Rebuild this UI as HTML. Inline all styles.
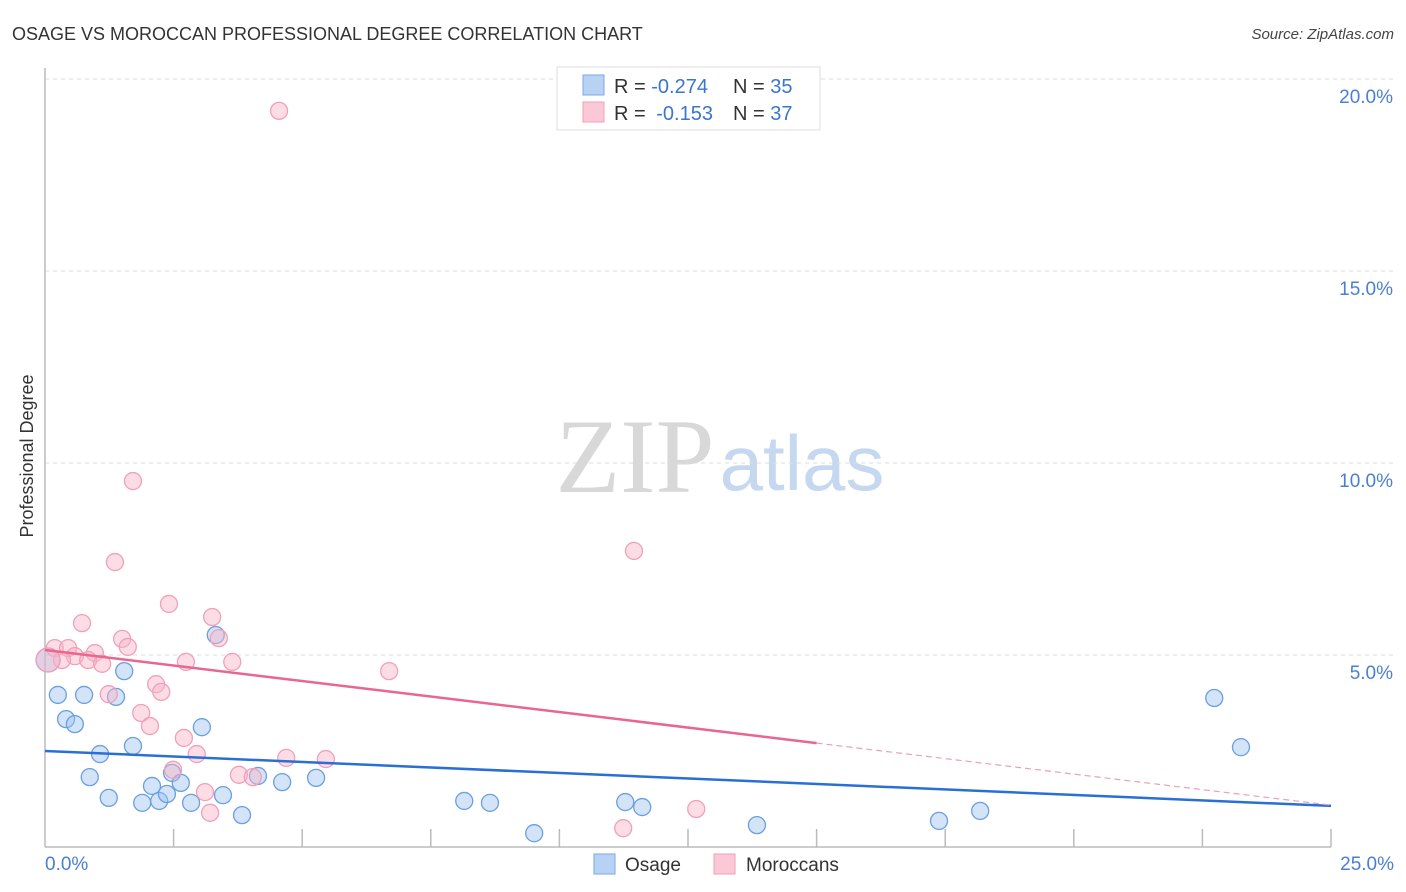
<!DOCTYPE html>
<html><head><meta charset="utf-8"><style>
body{margin:0;background:#fff;font-family:"Liberation Sans",sans-serif;}
svg{display:block}
</style></head><body>
<svg id="chart" width="1406" height="892" xmlns="http://www.w3.org/2000/svg">
<text x="12" y="40" font-size="18" fill="#333">OSAGE VS MOROCCAN PROFESSIONAL DEGREE CORRELATION CHART</text>
<text x="1394" y="39" font-size="15" fill="#444" text-anchor="end" font-style="italic">Source: ZipAtlas.com</text>
<g>
<text x="635" y="492" font-size="106" fill="#d8d8d8" font-family="Liberation Serif,serif" text-anchor="middle">ZIP</text>
<text x="802" y="490" font-size="78" fill="#c5d8f0" text-anchor="middle">atlas</text>
</g>
<g id="grid"></g>
<g id="axes"></g>
<g id="pts"></g>
<g id="lines"></g>
<text transform="translate(33,456) rotate(-90)" font-size="18" fill="#333" text-anchor="middle">Professional Degree</text>
<g>
<rect x="557" y="67" width="263" height="63" fill="#fff" stroke="#ddd"/>
<rect x="583" y="75" width="21" height="20" fill="#b8d2f4" stroke="#7aa8e6"/>
<rect x="583" y="102" width="21" height="20" fill="#fac8d6" stroke="#f0a0b8"/>
<text x="614" y="93" font-size="20" fill="#333">R = <tspan fill="#3a75d0">-0.274</tspan><tspan x="733">N = </tspan><tspan fill="#3a75d0">35</tspan></text>
<text x="614" y="120" font-size="20" fill="#333">R = <tspan fill="#3a75d0" dx="5">-0.153</tspan><tspan x="733">N = </tspan><tspan fill="#3a75d0">37</tspan></text>
</g>
<g>
<rect x="594" y="854" width="21" height="20" fill="#b8d2f4" stroke="#7aa8e6"/>
<text x="625" y="871" font-size="19" fill="#333">Osage</text>
<rect x="714" y="854" width="21" height="20" fill="#fac8d6" stroke="#f0a0b8"/>
<text x="746" y="871" font-size="19" fill="#333">Moroccans</text>
</g>
</svg>
<script>
const osageX=[0.06,0.25,0.76,0.41,0.58,1.07,0.87,1.24,1.54,1.38,1.71,1.89,2.08,2.22,2.37,2.47,2.64,2.84,3.05,3.32,3.46,3.83,4.14,4.61,5.27,8.15,8.65,9.51,11.28,11.61,13.84,17.38,18.18,22.73,23.25];
const osageY=[4.87,3.96,3.96,3.33,3.20,2.42,1.82,1.28,4.58,3.91,2.63,1.15,1.59,1.20,1.38,1.93,1.67,1.15,3.12,5.52,1.35,0.83,1.85,1.69,1.80,1.20,1.15,0.36,1.17,1.04,0.57,0.68,0.94,3.88,2.60];
const morX=[4.55,1.71,1.36,11.45,2.41,0.72,3.25,1.50,1.61,3.38,0.19,0.45,0.97,0.58,0.84,0.33,1.11,2.74,3.64,6.69,2.16,1.24,2.26,1.87,2.04,2.70,2.95,2.49,4.69,5.46,3.77,4.04,3.11,3.21,12.66,11.24,0.06];
const morY=[19.17,9.53,7.42,7.71,6.33,5.83,5.99,5.42,5.21,5.44,5.18,5.18,5.05,4.97,4.87,4.87,4.77,4.82,4.82,4.58,4.24,3.98,4.04,3.49,3.15,2.84,2.42,2.01,2.32,2.29,1.88,1.82,1.43,0.89,0.99,0.49,4.87];
const osageTrend=[2.50,1.07];
const morTrend=[5.13,1.09];
const morSolidEnd=15;
const yTicks=[5,10,15,20];
const xTickLabels=["0.0%","25.0%"];
const NS="http://www.w3.org/2000/svg";
const X=v=>45+v/25*1286, Y=v=>847-v/5*192;
function mk(t,a,p){const e=document.createElementNS(NS,t);for(const k in a)e.setAttribute(k,a[k]);document.getElementById(p).appendChild(e);return e;}
yTicks.forEach(t=>{
 const l=mk('line',{x1:45,x2:1394,y1:Y(t),y2:Y(t),stroke:'#ddd','stroke-dasharray':'4,4'},'grid');
 
 
 const tx=mk('text',{x:1393,y:Y(t)+24,'font-size':19,fill:'#4a7fd0','text-anchor':'end'},'grid');
 tx.textContent=t.toFixed(1)+'%';
 
 
});
mk('line',{x1:45,x2:45,y1:68,y2:847,stroke:'#bbb','stroke-width':1.5},'axes');
mk('line',{x1:45,x2:1331,y1:847,y2:847,stroke:'#bbb','stroke-width':1.5},'axes');
for(let i=1;i<=10;i++){mk('line',{x1:X(i*2.5),x2:X(i*2.5),y1:829,y2:847,stroke:'#bbb','stroke-width':1.5},'axes');}
[[0,'start',45],[25,'end',1394]].forEach((d,i)=>{const t=mk('text',{x:d[2],y:870,'font-size':19,fill:'#4a7fd0','text-anchor':d[1]},'axes');t.textContent=xTickLabels[i];
 
 });
function pts(xs,ys,fill,stroke,name){xs.forEach((x,i)=>{const big=(x<0.1);const c=mk('circle',{cx:X(x),cy:Y(ys[i]),r:big?12:8.5,fill:fill,stroke:stroke,'stroke-width':1.3},'pts');
 
 });}
pts(osageX,osageY,'rgba(160,196,240,0.45)','#6a9fe0','osage-point');
pts(morX,morY,'rgba(248,180,200,0.45)','#f0a0b8','moroccan-point');
const b=mk('line',{x1:X(0),y1:Y(osageTrend[0]),x2:X(25),y2:Y(osageTrend[1]),stroke:'#2a6fd6','stroke-width':2.5},'lines');


const my=x=>morTrend[0]+(morTrend[1]-morTrend[0])*x/25;
const p1=mk('line',{x1:X(0),y1:Y(my(0)),x2:X(morSolidEnd),y2:Y(my(morSolidEnd)),stroke:'#e8668f','stroke-width':2.5},'lines');


const p2=mk('line',{x1:X(morSolidEnd),y1:Y(my(morSolidEnd)),x2:X(25),y2:Y(my(25)),stroke:'#e8a0b8','stroke-width':1.2,'stroke-dasharray':'6,4'},'lines');


</script>
</body></html>
